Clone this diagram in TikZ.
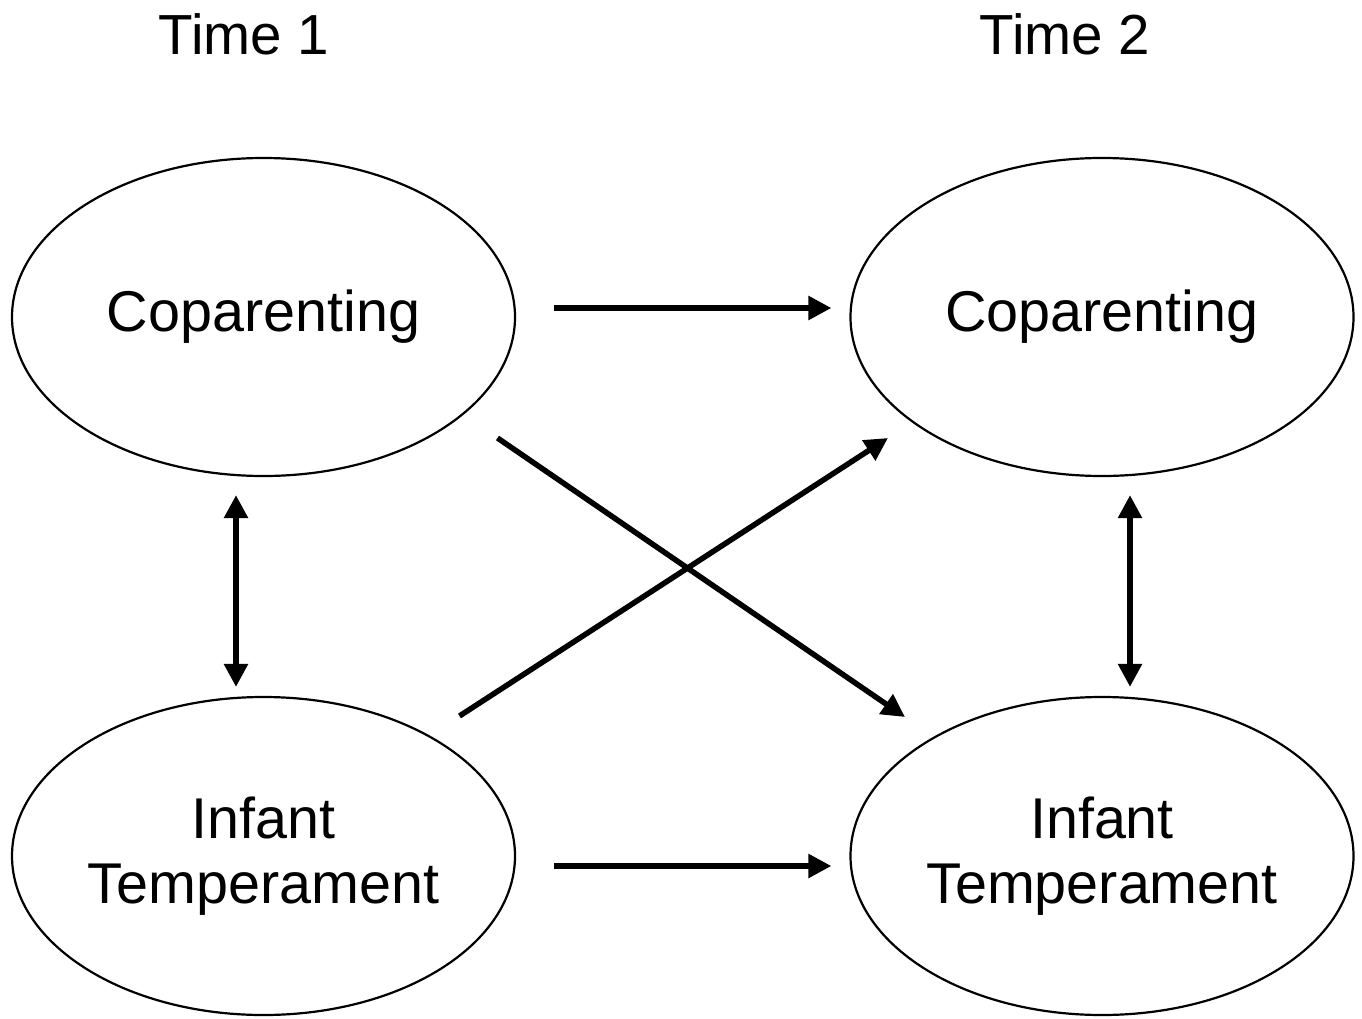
\documentclass[tikz,border=0pt]{standalone}
\usepackage{fontspec}
\setmainfont{Liberation Sans}
\usetikzlibrary{shapes.geometric,arrows.meta,calc}
\begin{document}
\begin{tikzpicture}[x=1pt,y=1pt,
  blob/.style={draw,ellipse,line width=2.2pt,minimum width=503pt,minimum height=318pt,inner sep=0pt,align=center,font=\fontsize{57.5}{65}\selectfont},
  arr/.style={line width=5.5pt,-{Triangle[length=23pt,width=23pt]}},
  darr/.style={line width=5.5pt,{Triangle[length=23pt,width=23pt]}-{Triangle[length=23pt,width=23pt]}},
  lbl/.style={font=\fontsize{56.5}{65}\selectfont,anchor=base}]
\useasboundingbox (0,0) rectangle (1362,-1019);
\node[lbl] (t1) at (244,-55) {Time 1};
\node[lbl] (t2) at (1065,-55) {Time 2};
\node[blob] (c1) at (263.5,-317) {Coparenting};
\node[blob] (c2) at (1102,-317) {Coparenting};
\node[blob] (i1) at (263.5,-856) {Infant\\Temperament};
\node[blob] (i2) at (1102,-856) {Infant\\Temperament};
\draw[arr] ($(c1.east)+(38,9)$) -- ($(c2.west)+(-18,9)$);
\draw[arr] ($(i1.east)+(38,-10)$) -- ($(i2.west)+(-18,-10)$);
\draw[darr] ($(c1.south)+(-27.5,-18)$) -- ($(i1.north)+(-27.5,9)$);
\draw[darr] ($(c2.south)+(28,-18)$) -- ($(i2.north)+(28,9)$);
\draw[arr] ($(c1.center)+(234,-121)$) -- ($(i2.center)+(-197,139)$);
\draw[arr] ($(i1.center)+(196,140)$) -- ($(c2.center)+(-214,-121)$);
\end{tikzpicture}
\end{document}
